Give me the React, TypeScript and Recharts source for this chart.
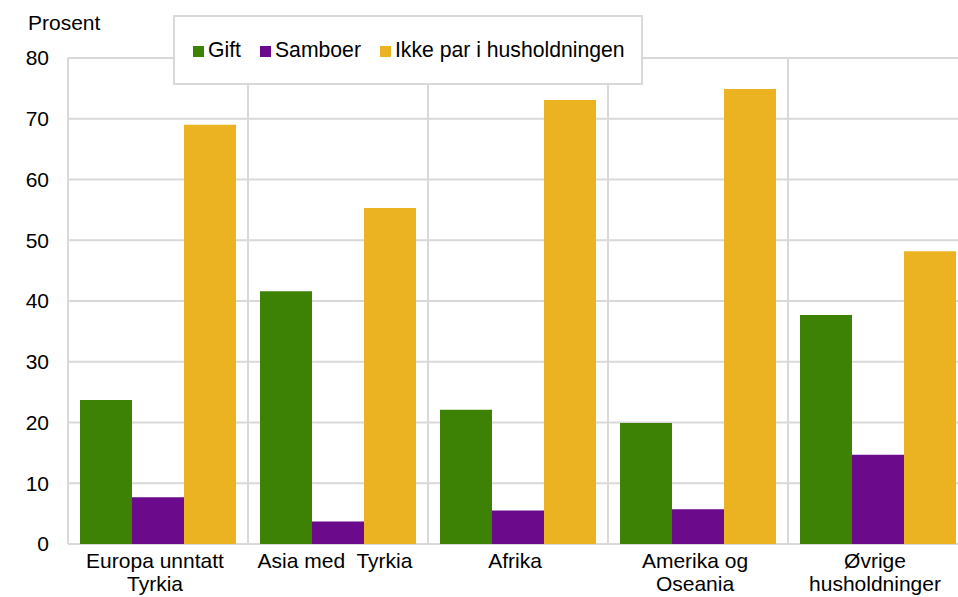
import React from 'react';
import { BarChart, Bar, XAxis, YAxis, CartesianGrid } from 'recharts';

const categories = [
  'Europa unntatt\nTyrkia',
  'Asia med  Tyrkia',
  'Afrika',
  'Amerika og\nOseania',
  'Øvrige\nhusholdninger',
];
const gift = [23.7, 41.6, 22.1, 19.9, 37.7];
const samboer = [7.7, 3.7, 5.5, 5.7, 14.7];
const ikkePar = [69.0, 55.3, 73.1, 74.9, 48.2];
const yTicks = [0, 10, 20, 30, 40, 50, 60, 70, 80];

const seriesNames = ['Gift', 'Samboer', 'Ikke par i husholdningen'];
const seriesKeys = ['gift', 'samboer', 'ikkePar'];
const colors = ['#3d8204', '#6b0a8a', '#ebb321'];

const data = categories.map((name, i) => ({
  name,
  gift: gift[i],
  samboer: samboer[i],
  ikkePar: ikkePar[i],
}));

const FONT = '"Liberation Sans", Arial, sans-serif';
const GRID = '#d9d9d9';

const CategoryTick = (props: any) => {
  const { x, y, payload } = props;
  const lines = String(payload.value).split('\n');
  return (
    <text
      x={x - 3}
      y={y}
      textAnchor="middle"
      fill="#000"
      fontSize={21}
      fontFamily={FONT}
      style={{ whiteSpace: 'pre' }}
    >
      {lines.map((line, i) => (
        <tspan key={i} x={x - 3} dy={i === 0 ? 24 : 23}>
          {line}
        </tspan>
      ))}
    </text>
  );
};

const App = () => {
  return (
    <div
      style={{
        position: 'absolute',
        left: 0,
        top: 0,
        width: 958,
        height: 597,
        overflow: 'hidden',
        background: '#fff',
        fontFamily: FONT,
      }}
    >
      <BarChart
        width={970}
        height={597}
        data={data}
        margin={{ top: 58, right: 2, bottom: 0, left: 0 }}
        barCategoryGap={12}
        barGap={0}
      >
        <CartesianGrid
          stroke={GRID}
          strokeWidth={2}
          verticalCoordinatesGenerator={({ offset }: any) =>
            Array.from(
              { length: categories.length + 1 },
              (_, i) => offset.left + (i * offset.width) / categories.length
            )
          }
        />
        <XAxis
          dataKey="name"
          axisLine={false}
          tickLine={false}
          tickSize={0}
          tickMargin={0}
          height={53}
          interval={0}
          tick={<CategoryTick />}
        />
        <YAxis
          domain={[0, 80]}
          ticks={yTicks}
          axisLine={false}
          tickLine={false}
          tickSize={0}
          tickMargin={19}
          width={68}
          tick={{ fontSize: 21, fill: '#000', fontFamily: FONT }}
        />
        {seriesKeys.map((key, i) => (
          <Bar
            key={key}
            dataKey={key}
            name={seriesNames[i]}
            fill={colors[i]}
            isAnimationActive={false}
          />
        ))}
      </BarChart>

      <div
        style={{
          position: 'absolute',
          left: 28,
          top: 12,
          fontSize: 21,
          lineHeight: '21px',
          color: '#000',
        }}
      >
        Prosent
      </div>

      <div
        style={{
          position: 'absolute',
          left: 173,
          top: 15,
          width: 470,
          height: 70,
          boxSizing: 'border-box',
          border: `2px solid ${GRID}`,
          background: '#fff',
          display: 'flex',
          alignItems: 'center',
          paddingLeft: 18,
          fontSize: 21.2,
          color: '#000',
          whiteSpace: 'nowrap',
          overflow: 'hidden',
        }}
      >
        {seriesNames.map((name, i) => (
          <div
            key={name}
            style={{
              display: 'flex',
              alignItems: 'center',
              flexShrink: 0,
              marginRight: i < seriesNames.length - 1 ? 19 : 0,
            }}
          >
            <span
              style={{
                display: 'inline-block',
                width: 11,
                height: 11,
                background: colors[i],
                marginRight: 4,
                marginTop: 2,
              }}
            />
            <span>{name}</span>
          </div>
        ))}
      </div>
    </div>
  );
};

export default App;
